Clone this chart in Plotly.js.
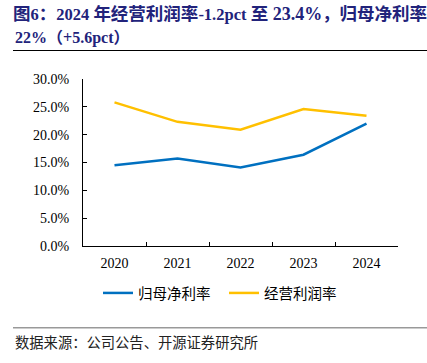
<!DOCTYPE html>
<html>
<head>
<meta charset="utf-8">
<script src="https://cdn.plot.ly/plotly-3.0.1.min.js"></script>
<style>html,body{margin:0;padding:0;background:#fff;}#chart{width:427px;height:363px;}</style>
</head>
<body>
<div id="chart"></div>
<script>
var years = ['2020', '2021', '2022', '2023', '2024'];
var netMargin = [14.5, 15.7, 14.1, 16.4, 22.0];
var opMargin = [25.8, 22.3, 20.9, 24.6, 23.4];
var seriesNames = ['归母净利率', '经营利润率'];
var titleLine1 = '图<L>6</L>：<L>2024 </L>年经营利润率<L>-1.2pct </L>至<M> 23.4%</M>，归母净利率';
var titleLine2 = '<L>22%</L>（<L>+5.6pct</L>）';
var sourceText = '数据来源：公司公告、开源证券研究所';

var serif = '"Liberation Serif", "Times New Roman", serif';
var titleFont = '"Liberation Serif", "Noto Sans CJK SC", serif';
var cjk = '"Noto Sans CJK SC", "Noto Sans", sans-serif';
var titleColor = '#22237B';

function fmtTitle(s, lat, mid) {
  return '<b>' + s.replace(/<L>/g, '<span style="font-size:' + lat + 'px;font-weight:bold">')
                  .replace(/<M>/g, '<span style="font-size:' + mid + 'px;font-weight:bold">')
                  .replace(/<\/[LM]>/g, '</span>') + '</b>';
}

var traces = [
  {x: years, y: netMargin, name: seriesNames[0], type: 'scatter', mode: 'lines',
   line: {color: '#0070C0', width: 2.5}},
  {x: years, y: opMargin, name: seriesNames[1], type: 'scatter', mode: 'lines',
   line: {color: '#FFC000', width: 2.5}}
];

var layout = {
  width: 427, height: 363,
  paper_bgcolor: '#fff', plot_bgcolor: '#fff',
  margin: {l: 83, r: 29, t: 79, b: 117},
  title: {text: fmtTitle(titleLine1, 16.5, 18), xref: 'container', yref: 'container',
          x: 13/427, xanchor: 'left', y: 1 - 14/363, yanchor: 'middle',
          font: {family: titleFont, size: 17.5, color: titleColor, weight: 'bold'}},
  annotations: [
    {text: fmtTitle(titleLine2, 16, 16), xref: 'paper', yref: 'paper', showarrow: false,
     x: (13 - 83) / 315, xanchor: 'left', y: 1 + (79 - 38) / 167, yanchor: 'middle',
     font: {family: titleFont, size: 16, color: titleColor, weight: 'bold'}},
    {text: sourceText, xref: 'paper', yref: 'paper', showarrow: false,
     x: (13 - 83) / 315, xanchor: 'left', y: (246 - 341) / 167, yanchor: 'middle',
     font: {family: cjk, size: 14.3, color: '#222'}}
  ],
  xaxis: {type: 'category', range: [-0.5, 4.5], showline: true, linecolor: '#000', linewidth: 1,
          ticks: 'inside', ticklen: 4, tickcolor: '#000', tickson: 'boundaries',
          showgrid: false, zeroline: false, ticklabelstandoff: 4,
          tickfont: {family: serif, size: 14, color: '#000'}},
  yaxis: {range: [0, 30], dtick: 5, tick0: 0, tickformat: '.1f', ticksuffix: '%',
          showline: true, linecolor: '#000', linewidth: 1,
          ticks: 'inside', ticklen: 4, tickcolor: '#000',
          showgrid: false, zeroline: false, ticklabelstandoff: 10,
          tickfont: {family: serif, size: 14, color: '#000'}},
  legend: {orientation: 'h', xref: 'container', x: 98/427, xanchor: 'left',
           yref: 'container', y: 1 - 293/363, yanchor: 'middle',
           font: {family: cjk, size: 14.5, color: '#000'}, itemwidth: 30,
           entrywidth: 81, entrywidthmode: 'pixels'},
  showlegend: true,
  shapes: [
    {type: 'line', xref: 'paper', yref: 'paper', x0: (13 - 83) / 315, x1: (427 - 83) / 315,
     y0: 1 + (79 - 50.5) / 167, y1: 1 + (79 - 50.5) / 167, line: {color: '#000', width: 1}},
    {type: 'line', xref: 'paper', yref: 'paper', x0: (13 - 83) / 315, x1: (427 - 83) / 315,
     y0: (246 - 327.7) / 167, y1: (246 - 327.7) / 167, line: {color: '#999', width: 1.5}}
  ]
};

Plotly.newPlot('chart', traces, layout, {displayModeBar: false, staticPlot: true});
</script>
</body>
</html>
